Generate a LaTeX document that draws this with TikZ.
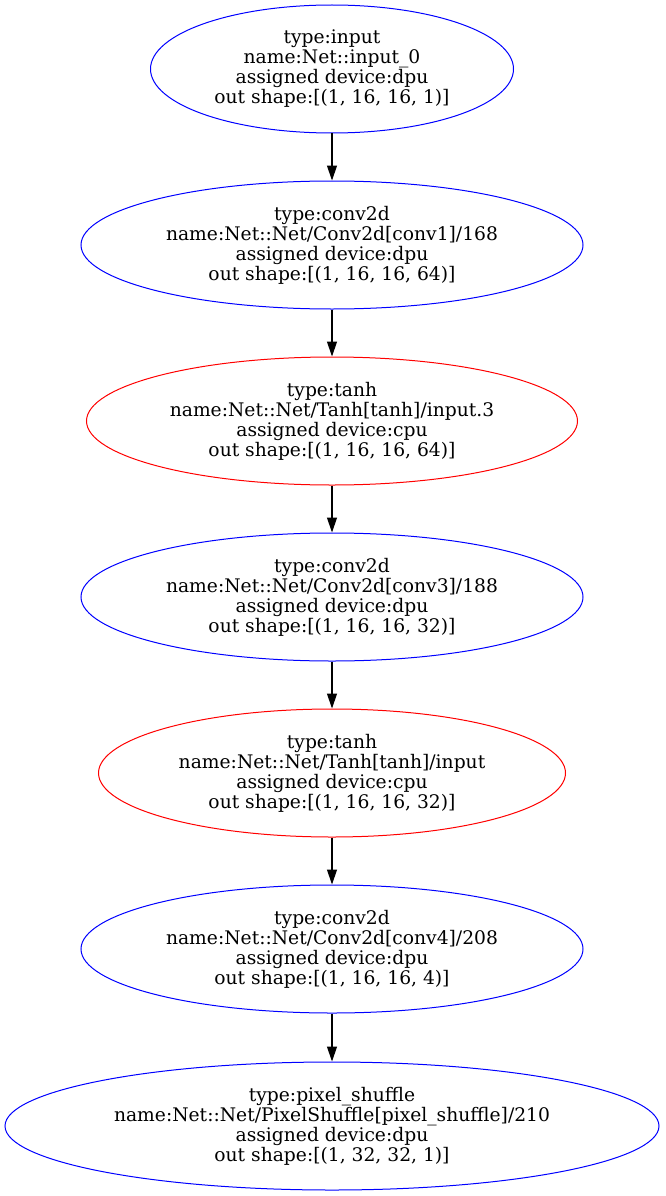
\documentclass[tikz,border=0pt]{standalone}
\usepackage{fontspec}
\setmainfont{DejaVu Serif}
\usetikzlibrary{shapes.geometric,arrows.meta}
\begin{document}
\begin{tikzpicture}[x=1pt,y=-1pt,
  op/.style={ellipse,draw,line width=1pt,inner sep=0pt,align=center,
    font=\fontsize{18.7}{20}\selectfont},
  dpu/.style={op,draw=blue},
  cpu/.style={op,draw=red},
  edge/.style={-{Triangle[length=15pt,width=10pt]},line width=1.2pt}]
\useasboundingbox (0,0) rectangle (665,1196);
\node[dpu,minimum width=363pt,minimum height=128pt] (n1) at (332,69)
  {type:input\\name:Net::input\_0\\assigned device:dpu\\out shape:[(1, 16, 16, 1)]};
\node[dpu,minimum width=502pt,minimum height=128pt] (n2) at (332,245)
  {type:conv2d\\name:Net::Net/Conv2d[conv1]/168\\assigned device:dpu\\out shape:[(1, 16, 16, 64)]};
\node[cpu,minimum width=491pt,minimum height=128pt] (n3) at (332,421)
  {type:tanh\\name:Net::Net/Tanh[tanh]/input.3\\assigned device:cpu\\out shape:[(1, 16, 16, 64)]};
\node[dpu,minimum width=502pt,minimum height=128pt] (n4) at (332,597)
  {type:conv2d\\name:Net::Net/Conv2d[conv3]/188\\assigned device:dpu\\out shape:[(1, 16, 16, 32)]};
\node[cpu,minimum width=467pt,minimum height=128pt] (n5) at (332,773)
  {type:tanh\\name:Net::Net/Tanh[tanh]/input\\assigned device:cpu\\out shape:[(1, 16, 16, 32)]};
\node[dpu,minimum width=502pt,minimum height=128pt] (n6) at (332,949)
  {type:conv2d\\name:Net::Net/Conv2d[conv4]/208\\assigned device:dpu\\out shape:[(1, 16, 16, 4)]};
\node[dpu,minimum width=654pt,minimum height=128pt] (n7) at (332,1126)
  {type:pixel\_shuffle\\name:Net::Net/PixelShuffle[pixel\_shuffle]/210\\assigned device:dpu\\out shape:[(1, 32, 32, 1)]};
\foreach \a/\b in {n1/n2,n2/n3,n3/n4,n4/n5,n5/n6,n6/n7}
  \draw[edge] (\a.south) -- (\b.north);
\end{tikzpicture}
\end{document}
